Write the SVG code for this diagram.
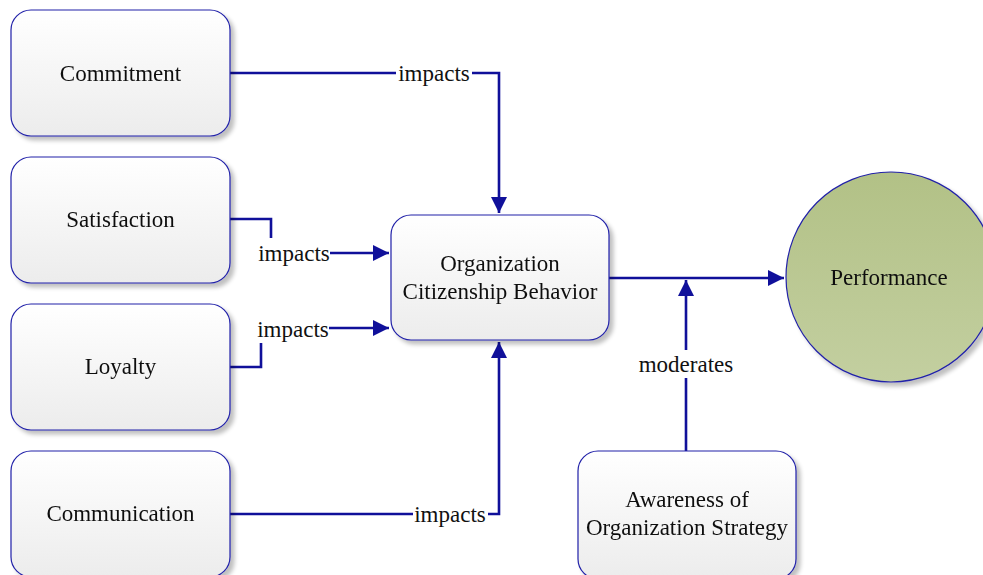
<svg xmlns="http://www.w3.org/2000/svg" width="983" height="575" viewBox="0 0 983 575">
<style>
.box{fill:url(#gbox);stroke:#2020a8;stroke-width:1.2}
.txt{font-family:"Liberation Serif","Times New Roman",serif;font-size:23px;fill:#111;text-anchor:middle}
.con{fill:none;stroke:#10109a;stroke-width:2.6}
.lbg{fill:#fff}
</style>
<defs>
<linearGradient id="gbox" x1="0" y1="0" x2="0" y2="1">
<stop offset="0" stop-color="#ffffff"/>
<stop offset="1" stop-color="#ececec"/>
</linearGradient>
<linearGradient id="gperf" x1="0" y1="0" x2="0" y2="1">
<stop offset="0" stop-color="#b2c186"/>
<stop offset="1" stop-color="#c3cfa0"/>
</linearGradient>
<filter id="sh" x="-10%" y="-10%" width="130%" height="130%">
<feGaussianBlur in="SourceAlpha" stdDeviation="2"/>
<feOffset dx="4" dy="4" result="b"/>
<feComponentTransfer><feFuncA type="linear" slope="0.25"/></feComponentTransfer>
<feMerge><feMergeNode/><feMergeNode in="SourceGraphic"/></feMerge>
</filter>
<marker id="arr" viewBox="0 0 16 16" refX="16" refY="8" markerWidth="16" markerHeight="16" markerUnits="userSpaceOnUse" orient="auto">
<path d="M0,0 L16,8 L0,16 Z" fill="#10109a"/>
</marker>
</defs>
<g id="connectors">
<path class="con" d="M230,73 H499 V213" marker-end="url(#arr)"/>
<path class="con" d="M230,219 H271 V253 H389" marker-end="url(#arr)"/>
<path class="con" d="M230,367 H261 V328 H389" marker-end="url(#arr)"/>
<path class="con" d="M230,514 H499 V342" marker-end="url(#arr)"/>
<path class="con" d="M609,278 H784" marker-end="url(#arr)"/>
<path class="con" d="M686,451 V280" marker-end="url(#arr)"/>
<rect class="lbg" x="396" y="61" width="76" height="24"/>
<text class="txt" x="434" y="81">impacts</text>
<rect class="lbg" x="256" y="238" width="74" height="28"/>
<text class="txt" x="294" y="261">impacts</text>
<rect class="lbg" x="255" y="315" width="74" height="28"/>
<text class="txt" x="293" y="337">impacts</text>
<rect class="lbg" x="413" y="502" width="75" height="24"/>
<text class="txt" x="450" y="522">impacts</text>
<rect class="lbg" x="637" y="350" width="99" height="28"/>
<text class="txt" x="686" y="372">moderates</text>
</g>
<g id="commitment" filter="url(#sh)">
<rect class="box" x="11" y="10" width="219" height="126" rx="20"/>
<text class="txt" x="120.5" y="81">Commitment</text>
</g>
<g id="satisfaction" filter="url(#sh)">
<rect class="box" x="11" y="157" width="219" height="126" rx="20"/>
<text class="txt" x="120.5" y="227">Satisfaction</text>
</g>
<g id="loyalty" filter="url(#sh)">
<rect class="box" x="11" y="304" width="219" height="126" rx="20"/>
<text class="txt" x="120.5" y="374">Loyalty</text>
</g>
<g id="communication" filter="url(#sh)">
<rect class="box" x="11" y="451" width="219" height="126" rx="20"/>
<text class="txt" x="120.5" y="521">Communication</text>
</g>
<g id="ocb" filter="url(#sh)">
<rect class="box" x="391" y="215" width="218" height="125" rx="20"/>
<text class="txt" x="500" y="271">Organization</text>
<text class="txt" x="500" y="299">Citizenship Behavior</text>
</g>
<g id="awareness" filter="url(#sh)">
<rect class="box" x="578" y="451" width="218" height="128" rx="20"/>
<text class="txt" x="687" y="507">Awareness of</text>
<text class="txt" x="687" y="535">Organization Strategy</text>
</g>
<g id="performance" filter="url(#sh)">
<circle cx="891" cy="277" r="105" fill="url(#gperf)" stroke="#2020a8" stroke-width="1.2"/>
<text class="txt" x="889" y="285">Performance</text>
</g>
</svg>
